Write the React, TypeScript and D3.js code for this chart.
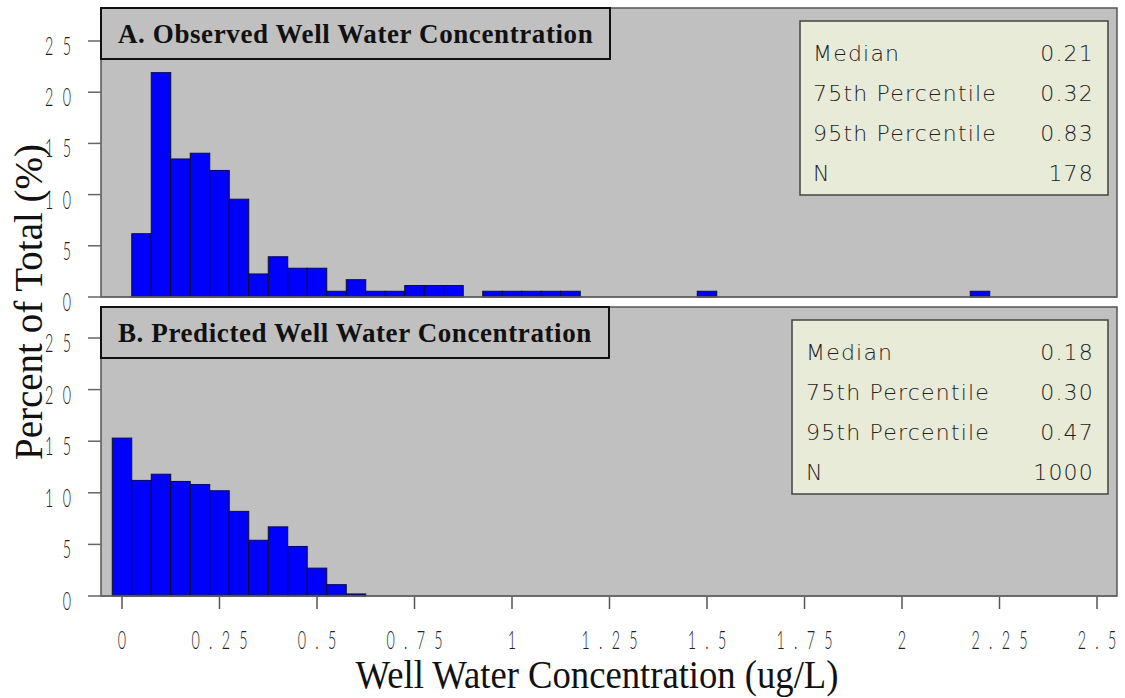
import React from "react";
import * as d3 from "d3";

// histogram bins: centre of each 0.05 ug/L bin and its percent of total
const binWidth = 0.05;
const observedCenters = [
  0.05, 0.1, 0.15, 0.2, 0.25, 0.3, 0.35, 0.4, 0.45, 0.5, 0.55, 0.6, 0.65, 0.7,
  0.75, 0.8, 0.85, 0.95, 1.0, 1.05, 1.1, 1.15, 1.5, 2.2,
];
const observedPct = [
  6.18, 21.91, 13.48, 14.04, 12.36, 9.55, 2.25, 3.93, 2.81, 2.81, 0.56, 1.69,
  0.56, 0.56, 1.12, 1.12, 1.12, 0.56, 0.56, 0.56, 0.56, 0.56, 0.56, 0.56,
];
const predictedCenters = [0, 0.05, 0.1, 0.15, 0.2, 0.25, 0.3, 0.35, 0.4, 0.45, 0.5, 0.55, 0.6];
const predictedPct = [15.3, 11.2, 11.8, 11.1, 10.8, 10.2, 8.2, 5.4, 6.7, 4.8, 2.7, 1.1, 0.2];

const xTicks = [0, 0.25, 0.5, 0.75, 1, 1.25, 1.5, 1.75, 2, 2.25, 2.5];
const xTickLabels = ["0", "0.25", "0.5", "0.75", "1", "1.25", "1.5", "1.75", "2", "2.25", "2.5"];
const yTicks = [0, 5, 10, 15, 20, 25];

const statLabels = ["Median", "75th Percentile", "95th Percentile", "N"];
const observedStats = ["0.21", "0.32", "0.83", "178"];
const predictedStats = ["0.18", "0.30", "0.47", "1000"];

const W = 1125;
const H = 698;
const frameLeft = 101;
const frameRight = 1117;

const x = d3.scaleLinear().domain([0, 2.5]).range([122, 1097]);

const panels = [
  {
    title: "A. Observed Well Water Concentration",
    centers: observedCenters,
    values: observedPct,
    stats: observedStats,
    top: 8,
    y: d3.scaleLinear().domain([0, 25]).range([297, 41]),
    titleW: 509,
    box: { x: 800, y: 21, w: 308, h: 174, tx: 813 },
  },
  {
    title: "B. Predicted Well Water Concentration",
    centers: predictedCenters,
    values: predictedPct,
    stats: predictedStats,
    top: 307,
    y: d3.scaleLinear().domain([0, 25]).range([596, 338]),
    titleW: 508,
    box: { x: 792, y: 320, w: 316, h: 174, tx: 806 },
  },
];

const tickFont = "Lato, 'DejaVu Sans', sans-serif";
const sx = 0.55;
const ls = 17;

function NarrowText({ x0, y0, text, anchor }: { x0: number; y0: number; text: string; anchor: string }) {
  const shift = anchor === "middle" ? (ls * sx) / 2 : anchor === "end" ? ls * sx : 0;
  return (
    <text
      transform={`translate(${x0 + shift},${y0}) scale(${sx},1)`}
      textAnchor={anchor}
      fontFamily={tickFont}
      fontWeight={300}
      fontSize={26}
      letterSpacing={ls}
      fill="#222"
    >
      {text}
    </text>
  );
}

export default function App() {
  return (
    <svg width={W} height={H} style={{ position: "absolute", left: 0, top: 0, background: "#fff" }}>
      {panels.map((p, pi) => {
        const y = p.y;
        const base = y(0);
        const bw = x(binWidth) - x(0);
        return (
          <g key={pi}>
            <rect
              x={frameLeft}
              y={p.top}
              width={frameRight - frameLeft}
              height={base - p.top}
              fill="#c0c0c0"
              stroke="#555"
              strokeWidth={1.5}
            />
            {yTicks.map((t) => (
              <g key={t}>
                <line x1={88} x2={frameLeft} y1={y(t)} y2={y(t)} stroke="#666" strokeWidth={1.5} />
                <NarrowText x0={71} y0={y(t) + 14} text={String(t)} anchor="end" />
              </g>
            ))}
            {p.centers.map((c, i) => (
              <rect
                key={i}
                x={x(c) - bw / 2}
                y={y(p.values[i])}
                width={bw}
                height={base - y(p.values[i])}
                fill="#0000ff"
                stroke="#111"
                strokeWidth={1}
              />
            ))}
            <line x1={frameLeft} x2={frameRight} y1={base} y2={base} stroke="#666" strokeWidth={1.5} />
            <rect
              x={frameLeft}
              y={p.top}
              width={p.titleW}
              height={51}
              fill="#c0c0c0"
              stroke="#111"
              strokeWidth={2}
            />
            <text
              x={118}
              y={p.top + 35}
              fontFamily="'Liberation Serif', 'Times New Roman', serif"
              fontWeight="bold"
              fontSize={27}
              letterSpacing={0.6}
              fill="#111"
            >
              {p.title}
            </text>
            <rect
              x={p.box.x}
              y={p.box.y}
              width={p.box.w}
              height={p.box.h}
              fill="#e8ebd7"
              stroke="#444"
              strokeWidth={1.5}
            />
            {statLabels.map((s, i) => (
              <g
                key={s}
                fontFamily="'DejaVu Sans', sans-serif"
                fontWeight={300}
                fontSize={22}
                letterSpacing={1.2}
                fill="#222"
              >
                <text x={p.box.tx} y={p.box.y + 40 + i * 40}>
                  {s}
                </text>
                <text x={1094} y={p.box.y + 40 + i * 40} textAnchor="end">
                  {p.stats[i]}
                </text>
              </g>
            ))}
          </g>
        );
      })}
      {xTicks.map((t, i) => (
        <g key={t}>
          <line x1={x(t)} x2={x(t)} y1={597} y2={609} stroke="#555" strokeWidth={1.5} />
          <NarrowText x0={x(t)} y0={649} text={xTickLabels[i]} anchor="middle" />
        </g>
      ))}
      <text
        transform="translate(597,688) scale(0.94,1)"
        textAnchor="middle"
        fontFamily="'Liberation Serif', 'Times New Roman', serif"
        fontSize={39}
        fill="#111"
      >
        Well Water Concentration (ug/L)
      </text>
      <text
        transform="translate(42,302) rotate(-90)"
        textAnchor="middle"
        fontFamily="'Liberation Serif', 'Times New Roman', serif"
        fontSize={39}
        fill="#111"
      >
        Percent of Total (%)
      </text>
    </svg>
  );
}
